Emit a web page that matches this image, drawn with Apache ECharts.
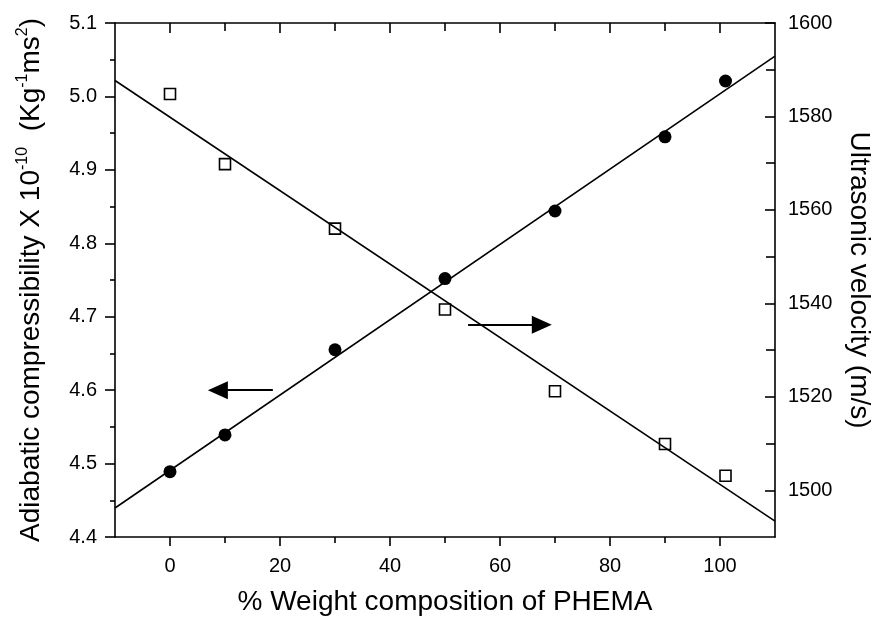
<!DOCTYPE html>
<html>
<head>
<meta charset="utf-8">
<script src="https://cdn.jsdelivr.net/npm/echarts@6/dist/echarts.min.js"></script>
<style>
  html, body { margin: 0; padding: 0; background: #fff; }
  #chart { width: 873px; height: 618px; }
</style>
</head>
<body>
<div id="chart"></div>
<script>
// % weight of PHEMA
const composition = [0, 10, 30, 50, 70, 90, 101];
// adiabatic compressibility x 10^-10 (left axis, filled circles)
const compressibility = [4.489, 4.539, 4.655, 4.752, 4.844, 4.945, 5.021];
// ultrasonic velocity m/s (right axis, open squares)
const velocity = [1584.8, 1569.8, 1556.0, 1538.7, 1521.2, 1509.9, 1503.1];

// linear fits, drawn across the full x range
const compressibilityFit = [[-10, 4.4395], [110, 5.055]];
const velocityFit = [[-10, 1587.7], [110, 1493.4]];

// arrows pointing to each series' axis
const leftArrow = [[18.7, 4.6], [8.7, 4.6]];
const rightArrow = [[54.2, 1535.4], [67.6, 1535.4]];

const xMajorTicks = [0, 20, 40, 60, 80, 100];
const xMinorTicks = [10, 30, 50, 70, 90];
const leftMajorTicks = [4.4, 4.5, 4.6, 4.7, 4.8, 4.9, 5.0, 5.1];
const leftMinorTicks = [4.45, 4.55, 4.65, 4.75, 4.85, 4.95, 5.05];
const rightMajorTicks = [1500, 1520, 1540, 1560, 1580, 1600];
const rightMinorTicks = [1510, 1530, 1550, 1570, 1590];

const FONT = "'Liberation Sans', Arial, sans-serif";
const ink = "#000";

const chart = echarts.init(document.getElementById("chart"));

// axis that only draws ticks (used for frame sides and minor ticks)
function tickAxis(extra) {
  return Object.assign({
    type: "value",
    splitLine: { show: false },
    axisLine: { show: false, onZero: false },
    axisLabel: { show: false },
  }, extra);
}

const tickStyle = { color: ink, width: 1.6 };
const lineStyle = { color: ink, width: 1.6 };

const option = {
  animation: false,
  backgroundColor: "#fff",
  grid: { left: 115, right: 98, top: 23, bottom: 81, outerBoundsMode: "none", containLabel: false },
  xAxis: [
    tickAxis({
      position: "bottom", min: -10, max: 110,
      axisLine: { show: true, onZero: false, lineStyle: lineStyle },
      axisTick: { show: true, inside: false, length: 9, customValues: xMajorTicks, lineStyle: tickStyle },
      axisLabel: { show: true, customValues: xMajorTicks, margin: 19, color: ink, fontSize: 20, fontFamily: FONT },
      name: "% Weight composition of PHEMA",
      nameLocation: "middle",
      nameGap: 51,
      nameTextStyle: { color: ink, fontSize: 28, fontFamily: FONT },
    }),
    tickAxis({
      position: "bottom", min: -10, max: 110,
      axisTick: { show: true, inside: false, length: 6, customValues: xMinorTicks, lineStyle: tickStyle },
    }),
    tickAxis({
      position: "top", min: -10, max: 110,
      axisLine: { show: true, onZero: false, lineStyle: lineStyle },
      axisTick: { show: true, inside: true, length: 10, customValues: xMajorTicks, lineStyle: tickStyle },
    }),
    tickAxis({
      position: "top", min: -10, max: 110,
      axisTick: { show: true, inside: true, length: 8, customValues: xMinorTicks, lineStyle: tickStyle },
    }),
  ],
  yAxis: [
    tickAxis({
      position: "left", min: 4.4, max: 5.1,
      axisLine: { show: true, onZero: false, lineStyle: lineStyle },
      axisTick: { show: true, inside: false, length: 10, customValues: leftMajorTicks, lineStyle: tickStyle },
      axisLabel: {
        show: true, customValues: leftMajorTicks, margin: 18, color: ink, fontSize: 20, fontFamily: FONT,
        formatter: (v) => v.toFixed(1),
      },
      name: "{t|Adiabatic compressibility X 10}{s|-10}{t|  (Kg}{s|-1}{t|ms}{s|2}{t|)}",
      nameLocation: "middle",
      nameRotate: 90,
      nameGap: 68,
      nameTextStyle: {
        color: ink, fontSize: 28, fontFamily: FONT,
        rich: {
          t: { fontSize: 28, fontFamily: FONT, color: ink, lineHeight: 32 },
          s: { fontSize: 16, fontFamily: FONT, color: ink, lineHeight: 16, verticalAlign: "top" },
        },
      },
    }),
    tickAxis({
      position: "left", min: 4.4, max: 5.1,
      axisTick: { show: true, inside: false, length: 5, customValues: leftMinorTicks, lineStyle: tickStyle },
    }),
    tickAxis({
      position: "right", min: 1490, max: 1600,
      axisLine: { show: true, onZero: false, lineStyle: lineStyle },
      axisTick: { show: true, inside: true, length: 10, customValues: rightMajorTicks, lineStyle: tickStyle },
      axisLabel: {
        show: true, customValues: rightMajorTicks, margin: 13, color: ink, fontSize: 20, fontFamily: FONT,
        formatter: (v) => String(v),
      },
      name: "Ultrasonic velocity (m/s)",
      nameLocation: "middle",
      nameRotate: -90,
      nameGap: 68,
      nameTextStyle: { color: ink, fontSize: 28, fontFamily: FONT, lineHeight: 30 },
    }),
    tickAxis({
      position: "right", min: 1490, max: 1600,
      axisTick: { show: true, inside: true, length: 9, customValues: rightMinorTicks, lineStyle: tickStyle },
    }),
  ],
  series: [
    {
      name: "compressibility fit",
      type: "line",
      xAxisIndex: 0, yAxisIndex: 0,
      data: compressibilityFit,
      showSymbol: false,
      silent: true,
      lineStyle: lineStyle,
      markLine: {
        silent: true,
        symbol: ["none", "triangle"],
        symbolSize: [18, 20],
        label: { show: false },
        lineStyle: { color: ink, width: 2, type: "solid" },
        itemStyle: { color: ink },
        data: [[{ coord: leftArrow[0] }, { coord: leftArrow[1] }]],
      },
    },
    {
      name: "velocity fit",
      type: "line",
      xAxisIndex: 0, yAxisIndex: 2,
      data: velocityFit,
      showSymbol: false,
      silent: true,
      lineStyle: lineStyle,
      markLine: {
        silent: true,
        symbol: ["none", "triangle"],
        symbolSize: [18, 20],
        label: { show: false },
        lineStyle: { color: ink, width: 2, type: "solid" },
        itemStyle: { color: ink },
        data: [[{ coord: rightArrow[0] }, { coord: rightArrow[1] }]],
      },
    },
    {
      name: "Adiabatic compressibility",
      type: "scatter",
      xAxisIndex: 0, yAxisIndex: 0,
      data: composition.map((x, i) => [x, compressibility[i]]),
      symbol: "circle",
      symbolSize: 13,
      itemStyle: { color: ink, opacity: 1 },
    },
    {
      name: "Ultrasonic velocity",
      type: "scatter",
      xAxisIndex: 0, yAxisIndex: 2,
      data: composition.map((x, i) => [x, velocity[i]]),
      symbol: "rect",
      symbolSize: 11,
      itemStyle: { color: "#fff", borderColor: ink, borderWidth: 1.6, opacity: 1 },
    },
  ],
};

chart.setOption(option);
</script>
</body>
</html>
